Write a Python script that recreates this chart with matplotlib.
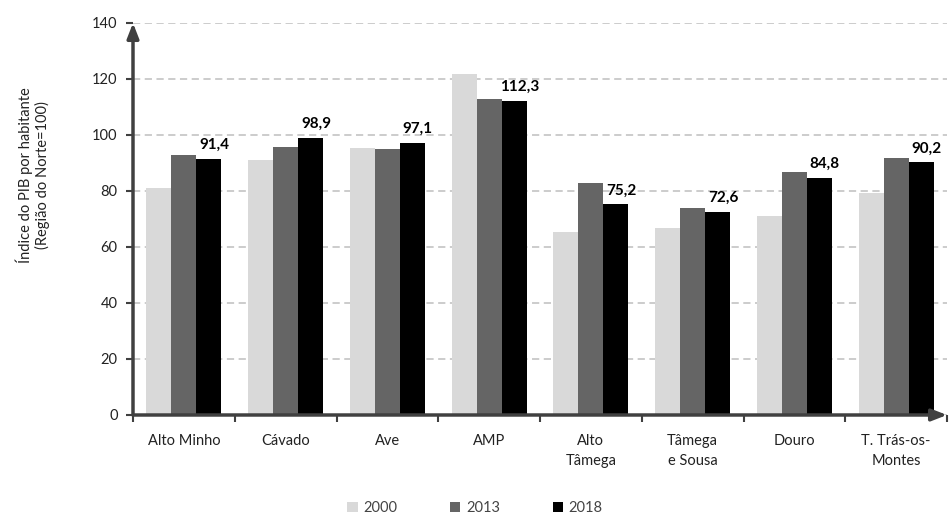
import matplotlib
matplotlib.use("Agg")
import matplotlib.pyplot as plt
import numpy as np

plt.rcParams['font.family'] = ['Lato', 'DejaVu Sans']

regions = ["Alto Minho", "Cávado", "Ave", "AMP", "Alto\nTâmega",
           "Tâmega\ne Sousa", "Douro", "T. Trás-os-\nMontes"]
years = ["2000", "2013", "2018"]
v2000 = [81.2, 91.0, 95.5, 121.7, 65.4, 66.9, 71.0, 79.3]
v2013 = [92.9, 95.7, 95.1, 112.7, 82.7, 73.8, 86.7, 91.9]
v2018 = [91.4, 98.9, 97.1, 112.3, 75.2, 72.6, 84.8, 90.2]
y_ticks = [0, 20, 40, 60, 80, 100, 120, 140]

colors = ["#d9d9d9", "#656565", "#000000"]
axis_col = "#404040"

fig = plt.figure(figsize=(9.49, 5.16), dpi=100)
ax = fig.add_axes([133 / 949, 101 / 516, 814 / 949, 392 / 516])

x = np.arange(len(regions))
w = 0.245
for i, (vals, c, lab) in enumerate(zip([v2000, v2013, v2018], colors, years)):
    ax.bar(x + (i - 1) * w, vals, width=w, color=c, label=lab, zorder=3)

# value labels on the 2018 series
for xi, v in zip(x, v2018):
    ax.annotate(f"{v:.1f}".replace(".", ","), (xi + w, v), xytext=(4, 5),
                textcoords="offset points", ha="center", va="bottom",
                fontsize=11, fontweight="bold", color="black", zorder=4,
                annotation_clip=False)

ax.set_xlim(-0.5, len(regions) - 0.5)
ax.set_ylim(0, 140)
ax.set_yticks(y_ticks)
ax.set_yticklabels([str(t) for t in y_ticks], fontsize=10.5, color="#222222")
ax.set_xticks(x)
ax.set_xticklabels(regions, fontsize=10.5, color="#222222", linespacing=1.5)
ax.set_xticks(np.arange(len(regions) + 1) - 0.5, minor=True)
ax.tick_params(axis="x", which="major", length=0, pad=14)
ax.tick_params(axis="x", which="minor", length=5, width=1.5, color=axis_col,
               direction="out")
ax.tick_params(axis="y", length=5, width=1.5, color=axis_col, pad=6)

ax.grid(axis="y", color="#c8c8c8", linestyle=(0, (4, 2.5)), linewidth=1.3,
        zorder=0)
for s in ax.spines.values():
    s.set_visible(False)

# arrow-headed axes
ax.annotate("", xy=(0, 1.0), xytext=(0, 0), xycoords="axes fraction",
            arrowprops=dict(arrowstyle="-|>,head_length=0.9,head_width=0.35",
                            color=axis_col, lw=2.5, shrinkA=0, shrinkB=0),
            zorder=5, annotation_clip=False)
ax.annotate("", xy=(1.0, 0), xytext=(0, 0), xycoords="axes fraction",
            arrowprops=dict(arrowstyle="-|>,head_length=0.9,head_width=0.35",
                            color=axis_col, lw=2.5, shrinkA=0, shrinkB=0),
            zorder=5, annotation_clip=False)

fig.text(33 / 949, 1 - 175 / 516,
         "Índice do PIB por habitante\n(Região do Norte=100)",
         rotation=90, ha="center", va="center", fontsize=10.5,
         color="#222222", linespacing=1.2)

leg = fig.legend(loc="center", bbox_to_anchor=(475 / 949, 1 - 508 / 516),
                 ncol=3, frameon=False, fontsize=10.5, handlelength=0.7,
                 handleheight=0.7, handletextpad=0.4, columnspacing=3.6)
for t in leg.get_texts():
    t.set_color("#444444")

fig.savefig("out.png", dpi=100)
